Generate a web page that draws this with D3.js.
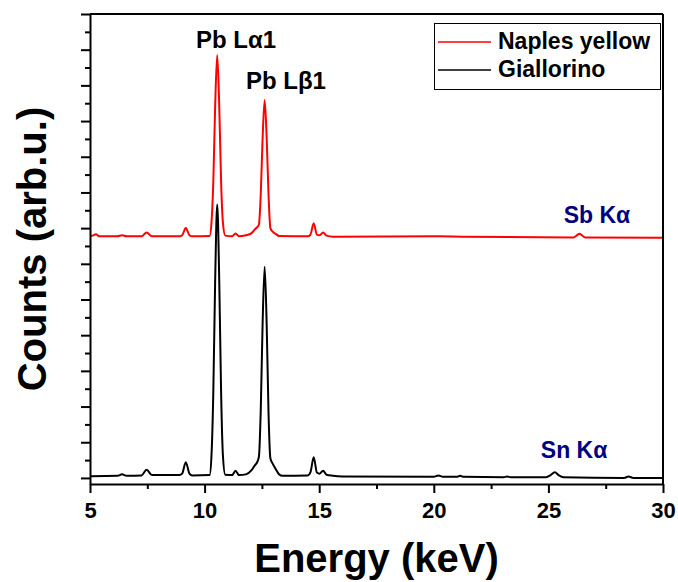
<!DOCTYPE html>
<html>
<head>
<meta charset="utf-8">
<script src="https://cdn.jsdelivr.net/npm/d3@7"></script>
<style>
  html, body { margin: 0; padding: 0; background: #fff; }
  svg text { font-family: "Liberation Sans", Arial, sans-serif; font-weight: bold; }
</style>
</head>
<body>
<svg id="chart" width="678" height="582"></svg>
<script>
// Giallorino spectrum (energy keV, counts arb.u.)
const giallorinoE = [5.0, 6.2, 6.4, 6.6, 7.25, 7.47, 7.7, 8.9, 9.02, 9.18, 9.34, 9.46, 10.22, 10.3, 10.38, 10.46, 10.55, 10.64, 10.72, 10.8, 10.9, 11.2, 11.35, 11.5, 11.8, 12.05, 12.2, 12.3, 12.37, 12.45, 12.53, 12.62, 12.71, 12.79, 12.87, 12.97, 13.1, 13.25, 13.4, 14.5, 14.62, 14.76, 14.9, 15.02, 15.17, 15.32, 15.6, 16.0, 20.0, 20.2, 20.4, 21.0, 21.15, 21.3, 23.05, 23.2, 23.35, 24.9, 25.1, 25.28, 25.46, 25.65, 28.3, 28.5, 28.7, 30.0];
const giallorinoC = [0.05, 0.06, 0.1, 0.06, 0.07, 0.23, 0.08, 0.08, 0.12, 0.44, 0.12, 0.07, 0.08, 0.62, 2.4, 5.5, 7.66, 5.5, 2.4, 0.62, 0.09, 0.08, 0.2, 0.08, 0.1, 0.22, 0.36, 0.45, 0.6, 1.9, 4.3, 5.92, 4.25, 1.8, 0.55, 0.4, 0.25, 0.1, 0.06, 0.07, 0.16, 0.58, 0.15, 0.12, 0.2, 0.09, 0.06, 0.04, 0.03, 0.07, 0.03, 0.03, 0.06, 0.03, 0.02, 0.04, 0.02, 0.02, 0.08, 0.16, 0.07, 0.02, 0.0, 0.04, 0.0, 0.0];

// Naples yellow spectrum (offset above Giallorino in the original plot)
const naplesE = [5.0, 5.12, 5.26, 5.4, 6.2, 6.4, 6.6, 7.25, 7.47, 7.7, 8.9, 9.02, 9.18, 9.34, 9.46, 10.22, 10.3, 10.38, 10.46, 10.55, 10.64, 10.72, 10.8, 10.9, 11.2, 11.35, 11.5, 11.8, 12.05, 12.2, 12.3, 12.37, 12.45, 12.53, 12.62, 12.71, 12.79, 12.87, 12.97, 13.1, 13.25, 14.5, 14.62, 14.76, 14.9, 15.02, 15.17, 15.32, 15.6, 20.2, 21.2, 26.1, 26.36, 26.6, 30.0];
const naplesC = [6.78, 6.79, 6.83, 6.77, 6.77, 6.8, 6.77, 6.77, 6.88, 6.77, 6.77, 6.8, 7.0, 6.8, 6.77, 6.78, 7.15, 8.3, 10.4, 11.85, 10.4, 8.3, 7.15, 6.79, 6.77, 6.85, 6.77, 6.8, 6.86, 6.97, 7.03, 7.1, 7.95, 9.5, 10.59, 9.5, 7.93, 7.0, 6.9, 6.84, 6.78, 6.77, 6.82, 7.14, 6.82, 6.8, 6.88, 6.79, 6.76, 6.77, 6.76, 6.74, 6.84, 6.74, 6.73];

const seriesNames = ['Naples yellow', 'Giallorino'];
const seriesColors = ['#ff0000', '#000000'];
const xTicks = [5, 10, 15, 20, 25, 30];
const xMinorTicks = [7.5, 12.5, 17.5, 22.5, 27.5];

// peak labels: [text, energy, counts, colour]
const peakLabels = [
  ['Pb L\u03b11', 11.37, 12.05, '#000000'],
  ['Pb L\u03b21', 13.55, 10.9, '#000000'],
  ['Sb K\u03b1', 27.12, 7.15, '#000080'],
  ['Sn K\u03b1', 26.12, 0.55, '#000080'],
];

const svg = d3.select('#chart');
const L = 90, R = 663, T = 14, B = 484;

const x = d3.scaleLinear().domain([5, 30]).range([L, R]);
const y = d3.scaleLinear().domain([-0.17, 13]).range([B, T]);

const line = d3.line()
  .x(d => x(d[0]))
  .y(d => y(d[1]))
  .curve(d3.curveMonotoneX);

const series = [
  d3.zip(naplesE, naplesC),
  d3.zip(giallorinoE, giallorinoC),
];

const plot = svg.append('g');
series.forEach((pts, i) => {
  plot.append('path')
    .datum(pts)
    .attr('fill', 'none')
    .attr('stroke', seriesColors[i])
    .attr('stroke-width', 2)
    .attr('stroke-linejoin', 'round')
    .attr('d', line);
});

// frame top / right
svg.append('line').attr('x1', L).attr('x2', R).attr('y1', T).attr('y2', T)
  .attr('stroke', '#000').attr('stroke-width', 2);
svg.append('line').attr('x1', R).attr('x2', R).attr('y1', T).attr('y2', B)
  .attr('stroke', '#000').attr('stroke-width', 2);

// x axis
const xAxis = svg.append('g').attr('transform', `translate(0,${B})`)
  .call(d3.axisBottom(x).tickValues(xTicks).tickSize(9).tickSizeOuter(0).tickPadding(9));
svg.append('g').attr('transform', `translate(0,${B})`)
  .call(d3.axisBottom(x).tickValues(xMinorTicks).tickSize(5).tickFormat(''))
  .call(g => g.select('.domain').remove());
xAxis.selectAll('text').attr('font-size', 22).attr('fill', '#000')
  .attr('font-family', '"Liberation Sans", Arial, sans-serif').attr('font-weight', 'bold');

// y axis, no labels
const yMajor = d3.range(0, 14);
const yMinor = d3.range(0.5, 13, 1);
svg.append('g').attr('transform', `translate(${L},0)`)
  .call(d3.axisLeft(y).tickValues(yMajor).tickSize(9).tickSizeOuter(0).tickFormat(''));
svg.append('g').attr('transform', `translate(${L},0)`)
  .call(d3.axisLeft(y).tickValues(yMinor).tickSize(5).tickFormat(''))
  .call(g => g.select('.domain').remove());

svg.selectAll('.domain, .tick line').attr('stroke', '#000').attr('stroke-width', 2);

// axis titles
svg.append('text')
  .attr('x', (L + R) / 2).attr('y', 572)
  .attr('text-anchor', 'middle').attr('font-size', 40)
  .text('Energy (keV)');
svg.append('text')
  .attr('transform', `translate(46,${(T + B) / 2}) rotate(-90)`)
  .attr('text-anchor', 'middle').attr('font-size', 40)
  .text('Counts (arb.u.)');

// peak labels
peakLabels.forEach(([t, e, c, col], i) => {
  svg.append('text')
    .attr('x', x(e)).attr('y', y(c))
    .attr('text-anchor', 'middle').attr('font-size', i < 2 ? 24 : 23)
    .attr('fill', col)
    .text(t);
});

// legend
const lg = svg.append('g');
lg.append('rect').attr('x', 434.5).attr('y', 23.5).attr('width', 226).attr('height', 66)
  .attr('fill', '#fff').attr('stroke', '#000').attr('stroke-width', 1);
seriesNames.forEach((n, i) => {
  const yy = 42 + i * 28;
  lg.append('line').attr('x1', 438).attr('x2', 491).attr('y1', yy).attr('y2', yy)
    .attr('stroke', seriesColors[i]).attr('stroke-width', 1.5);
  lg.append('text').attr('x', 498).attr('y', yy + 7).attr('font-size', 23).text(n);
});
</script>
</body>
</html>
